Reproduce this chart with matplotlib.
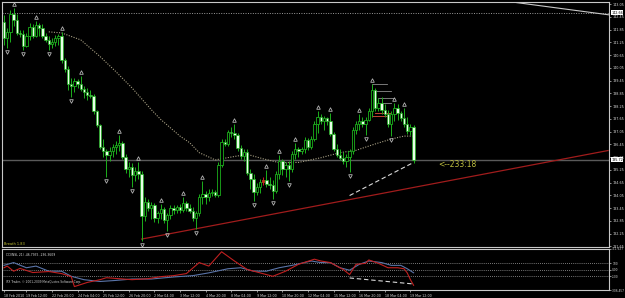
import matplotlib
matplotlib.use("Agg")
import matplotlib.pyplot as plt
import matplotlib.transforms as mtransforms
import numpy as np

# GBPJPY H4, 18 Feb 2010 08:00 .. 19 Mar 2010 16:00
opens = [142.22, 141.47, 141.75, 142.59, 142.31, 141.70, 141.66, 141.09, 141.56, 141.98,
         141.56, 142.08, 141.94, 141.56, 141.37, 141.19, 141.28, 141.47, 141.56, 140.44,
         140.01, 139.31, 139.22, 139.45, 139.31, 139.08, 138.94, 138.79, 138.75, 138.00,
         137.34, 136.31, 136.12, 135.93, 136.12, 136.31, 136.40, 136.50, 135.84, 135.28,
         135.37, 135.00, 135.18, 135.04, 133.07, 133.73, 133.45, 133.59, 132.98, 133.21,
         133.40, 132.88, 133.12, 133.45, 133.35, 133.49, 133.35, 133.68, 133.45, 133.31,
         132.98, 133.21, 133.96, 134.10, 133.96, 134.15, 134.20, 134.06, 135.46, 136.54,
         136.45, 137.01, 136.97, 136.87, 136.26, 135.89, 136.07, 135.09, 134.81, 134.20,
         134.43, 134.67, 134.76, 134.57, 134.53, 134.25, 135.04, 135.65, 135.28, 135.46,
         135.28, 135.98, 136.22, 136.12, 136.22, 136.64, 136.31, 136.68, 137.39, 137.72,
         137.53, 137.67, 137.53, 136.92, 136.22, 135.93, 135.79, 135.65, 135.84, 136.12,
         137.15, 137.39, 137.53, 137.39, 137.62, 138.04, 139.03, 138.18, 138.42, 138.09,
         137.90, 137.39, 137.86, 138.18, 137.95, 137.67, 137.43, 137.06, 137.25]
highs = [142.55, 141.94, 142.78, 142.88, 142.59, 141.84, 141.84, 141.70, 142.17, 142.12,
         142.27, 142.17, 142.12, 141.70, 141.56, 141.47, 141.61, 141.66, 141.75, 140.53,
         140.15, 139.59, 139.59, 139.54, 139.69, 139.22, 139.12, 139.03, 138.84, 138.09,
         137.43, 136.68, 136.22, 136.31, 136.45, 136.59, 136.87, 136.59, 135.98, 135.61,
         135.56, 135.37, 135.61, 135.18, 133.96, 133.87, 133.73, 133.68, 133.31, 133.63,
         133.49, 133.21, 133.59, 133.59, 133.59, 133.63, 133.96, 133.78, 133.63, 133.49,
         133.31, 134.10, 134.71, 134.25, 134.34, 134.34, 134.29, 135.61, 136.68, 136.68,
         137.15, 137.25, 137.39, 136.97, 136.40, 136.22, 136.22, 135.28, 135.04, 134.62,
         134.81, 134.90, 135.23, 134.90, 134.76, 135.18, 135.93, 135.75, 135.61, 135.65,
         136.12, 136.50, 136.31, 136.31, 136.78, 136.73, 136.83, 137.53, 138.00, 137.86,
         137.81, 137.76, 137.95, 137.01, 136.45, 136.22, 136.07, 135.98, 136.22, 137.29,
         137.53, 137.86, 137.72, 137.76, 138.18, 139.31, 139.12, 138.65, 138.70, 138.33,
         138.09, 138.00, 138.42, 138.33, 138.04, 138.14, 137.72, 137.39, 137.34]
lows = [141.14, 141.00, 141.28, 142.03, 141.61, 141.51, 140.90, 141.05, 141.37, 141.47,
        141.51, 141.56, 141.47, 141.28, 140.90, 141.00, 141.09, 141.14, 140.30, 139.87,
        139.03, 138.70, 138.94, 139.12, 138.98, 138.65, 138.56, 138.65, 137.90, 137.25,
        136.22, 135.84, 134.90, 135.65, 135.84, 135.98, 136.12, 135.75, 135.09, 134.90,
        134.43, 134.71, 134.81, 131.90, 132.84, 133.31, 132.93, 132.79, 132.74, 132.93,
        132.74, 132.37, 132.93, 133.17, 133.21, 133.21, 133.26, 133.31, 133.21, 132.84,
        132.46, 133.07, 133.63, 133.63, 133.77, 134.01, 133.96, 133.96, 135.37, 136.36,
        136.36, 136.78, 136.68, 136.12, 135.75, 135.65, 135.00, 134.34, 133.78, 134.06,
        134.15, 134.53, 134.43, 134.34, 133.87, 134.15, 134.81, 135.00, 134.90, 134.71,
        135.14, 135.75, 135.84, 135.98, 136.03, 136.17, 136.22, 136.59, 136.97, 137.39,
        137.15, 137.34, 136.83, 136.12, 135.84, 135.70, 135.51, 135.37, 135.14, 135.98,
        136.92, 137.15, 137.25, 136.87, 137.53, 137.72, 138.00, 138.00, 137.90, 137.76,
        137.25, 136.83, 137.53, 137.62, 137.53, 137.29, 136.92, 136.87, 135.56]
closes = [141.47, 141.75, 142.59, 142.31, 141.70, 141.66, 141.09, 141.56, 141.98, 141.56,
          142.08, 141.94, 141.56, 141.37, 141.19, 141.28, 141.47, 141.56, 140.44, 140.01,
          139.31, 139.22, 139.45, 139.31, 139.08, 138.94, 138.79, 138.75, 138.00, 137.34,
          136.31, 136.12, 135.93, 136.12, 136.31, 136.40, 136.50, 135.84, 135.28, 135.37,
          135.00, 135.18, 135.04, 133.07, 133.73, 133.45, 133.59, 132.98, 133.21, 133.40,
          132.88, 133.12, 133.45, 133.35, 133.49, 133.35, 133.68, 133.45, 133.31, 132.98,
          133.21, 133.96, 134.10, 133.96, 134.15, 134.20, 134.06, 135.46, 136.54, 136.45,
          137.01, 136.97, 136.87, 136.26, 135.89, 136.07, 135.09, 134.81, 134.20, 134.43,
          134.67, 134.76, 134.57, 134.53, 134.25, 135.04, 135.65, 135.28, 135.46, 135.28,
          135.98, 136.22, 136.12, 136.22, 136.64, 136.31, 136.68, 137.39, 137.72, 137.53,
          137.67, 137.53, 136.92, 136.22, 135.93, 135.79, 135.65, 135.84, 136.12, 137.15,
          137.39, 137.53, 137.39, 137.62, 138.04, 139.03, 138.18, 138.42, 138.09, 137.90,
          137.39, 137.86, 138.18, 137.95, 137.67, 137.43, 137.06, 137.25, 135.72]
red_bars = [81]

frac_up = [3, 10, 18, 24, 36, 42, 49, 56, 62, 72, 82, 86, 91, 98, 102, 111, 115, 122, 125]
frac_down = [1, 6, 14, 21, 32, 40, 43, 51, 60, 78, 84, 89, 108, 113, 121]

ma_bars = [14, 18, 24, 30, 35, 40, 46, 49, 55, 58, 61, 66, 72, 76, 81, 86, 92, 99, 105, 110,
           116, 121, 125, 128]
ma_vals = [141.75, 141.70, 141.37, 140.59, 139.87, 139.11, 138.09, 137.62, 136.84, 136.53,
           136.06, 135.72, 135.88, 135.98, 135.77, 135.59, 135.60, 135.82, 136.06, 136.17,
           136.47, 136.70, 136.84, 136.84]

cci_red_bars = [0, 1, 3, 5, 9, 14, 18, 21, 22, 26, 30, 32, 36, 40, 45, 49, 53, 57, 61, 64,
                68, 72, 76, 80, 84, 88, 92, 97, 99, 102, 104, 106, 108, 110, 113, 114, 117, 120,
                123, 125, 126, 127, 128]
cci_red = [29, 54, -23, 19, -43, -28, -59, -105, -255, -193, -151, -121, -136, -151, -136,
           -105, -90, -59, 107, 54, 270, 131, 3, -48, -100, -23, 80, 158, 131, 107, 54, 3, -74,
           80, 96, 147, 96, 29, 29, 14, -48, -151, -236]
cci_blue_bars = [0, 3, 7, 10, 14, 18, 21, 25, 30, 35, 40, 46, 53, 59, 64, 70, 74, 78, 82, 86,
                 90, 96, 99, 102, 105, 108, 111, 114, 118, 121, 124, 126, 128]
cci_blue = [65, 107, 29, 54, -23, -23, -100, -151, -178, -162, -141, -141, -110, -90, -48, 14,
            29, -23, -23, 29, 65, 131, 107, 107, 29, -8, 80, 131, 107, 65, 65, 14, -47]

price_ticks = [143.05, 142.45, 141.85, 141.25, 140.65, 140.05, 139.45, 138.85, 138.25, 137.65,
               137.05, 136.45, 135.85, 135.25, 134.65, 134.05, 133.45, 132.85, 132.25, 131.65]
time_bars = [0, 7, 15, 23, 31, 39, 47, 55, 63, 71, 79, 87, 95, 103, 111, 119, 127]
time_labels = ["18 Feb 2010", "19 Feb 12:00", "22 Feb 20:00", "24 Feb 04:00", "25 Feb 12:00",
               "26 Feb 20:00", "2 Mar 04:00", "3 Mar 12:00", "4 Mar 20:00", "8 Mar 04:00",
               "9 Mar 12:00", "10 Mar 20:00", "12 Mar 04:00", "15 Mar 12:00", "16 Mar 20:00",
               "18 Mar 04:00", "19 Mar 12:00"]

bid = 135.72
hline_level = 142.66
red_trend = ([43, 188.75], [131.99, 136.16])
grey_trend = ([156.6, 189.1], [143.20, 142.55])
low_dash = ([108, 128], [134.04, 135.60])
cci_dash = ([108, 128], [-125, -216])
stair_grey = [(115, 119.6, 139.30), (116, 120.8, 138.98), (117, 121.9, 138.64), (118, 121.0, 138.42)]
stair_red = [(116, 120.6, 137.94), (115, 120.0, 137.81)]

GREEN = "#1cb01c"
WHITE_BODY = "#e8ffe8"
FG = "#c8c8c8"
LBL = "#d8d8d8"

fig = plt.figure(figsize=(6.25, 2.98), dpi=100)
fig.patch.set_facecolor("black")
ax = fig.add_axes([2 / 625, 1 - 246.5 / 298, 607 / 625, 244.5 / 298])
ax2 = fig.add_axes([2 / 625, 1 - 290 / 298, 607 / 625, 41 / 298], sharex=ax)
for a in (ax, ax2):
    a.set_facecolor("black")
    for s in a.spines.values():
        s.set_color(FG)
        s.set_linewidth(0.8)

o = np.array(opens)
h = np.array(highs)
l = np.array(lows)
c = np.array(closes)
x = np.arange(len(o))
bull = c >= o

ax.axhline(hline_level, color="#9a9a9a", lw=0.7, ls=(0, (1, 1.5)))
ax.axhline(bid, color="#5a5a5a", lw=1.0)
ax.plot(ma_bars, ma_vals, color="#a8a084", lw=0.8, ls=(0, (1, 1.3)))
ax.plot(*red_trend, color="#a01c1c", lw=0.9)
ax.plot(*grey_trend, color="#c8c8c8", lw=0.8)
ax.plot(*low_dash, color="#d8d8d8", lw=0.8, ls=(0, (4, 2.5)))
for x0, x1, lv in stair_grey:
    ax.plot([x0, x1], [lv, lv], color="#8c8c8c", lw=0.6)
for x0, x1, lv in stair_red:
    ax.plot([x0, x1], [lv, lv], color="#e0503c", lw=0.6)

wick_col = [("#d02020" if i in red_bars else GREEN) for i in x]
ax.vlines(x, l, h, colors=wick_col, lw=0.7, zorder=3)
body_h = np.maximum(np.abs(c - o), 0.02)
body_b = np.minimum(o, c)
ax.bar(x[bull], body_h[bull], bottom=body_b[bull], width=0.72, color="black",
       edgecolor=GREEN, lw=0.6, zorder=4)
ax.bar(x[~bull], body_h[~bull], bottom=body_b[~bull], width=0.72, color=WHITE_BODY,
       edgecolor=GREEN, lw=0.5, zorder=4)
for i in red_bars:
    ax.bar(i, body_h[i], bottom=body_b[i], width=0.72, color="#d02020", edgecolor="#d02020",
           lw=0.5, zorder=5)

up_tr = mtransforms.offset_copy(ax.transData, fig=fig, x=0, y=4, units="dots")
dn_tr = mtransforms.offset_copy(ax.transData, fig=fig, x=0, y=-4, units="dots")
ax.plot(frac_up, h[frac_up], ls="none", marker="^", ms=2.6, mfc="none", mec="#b4b4b4",
        mew=0.6, transform=up_tr)
ax.plot(frac_down, l[frac_down], ls="none", marker="v", ms=2.6, mfc="none", mec="#b4b4b4",
        mew=0.6, transform=dn_tr)

ax.text(135.6, 135.51, "<--233:18", color="#c0c040", fontsize=5.5, ha="left", va="center")
ax.text(0.003, 0.004, "Breath 1.83", color="#c8c832", fontsize=2.5, transform=ax.transAxes,
        ha="left", va="bottom")

ax.set_xlim(-0.625, 189.06)
ax.set_ylim(131.64, 143.156)
ax.yaxis.tick_right()
ax.set_yticks(price_ticks)
ax.set_yticklabels([f"{v:.2f}" for v in price_ticks])
ax.tick_params(axis="y", colors=FG, labelcolor=LBL, labelsize=2.4, length=1.5, width=0.5,
               pad=0.8)
ax.tick_params(axis="x", bottom=False, labelbottom=False)

btrans = mtransforms.blended_transform_factory(ax.transAxes, ax.transData)
for lv, txt in [(hline_level, "142.66"), (bid, "135.72")]:
    ax.text(1.0035, lv, txt, transform=btrans, fontsize=2.4, color="black", ha="left",
            va="center", bbox=dict(boxstyle="square,pad=0.15", fc="white", ec="none"),
            clip_on=False, zorder=6)

# indicator window
for lv in (100, 0, -100):
    ax2.axhline(lv, color="#a0a0a0", lw=0.6, ls=(0, (1, 1.5)))
ax2.plot(cci_blue_bars, cci_blue, color="#5a74a8", lw=0.8)
ax2.plot(cci_red_bars, cci_red, color="#c02020", lw=0.8)
ax2.plot(*cci_dash, color="#d8d8d8", lw=0.8, ls=(0, (4, 2.5)))
ax2.set_ylim(-306.457, 311.627)
ax2.yaxis.tick_right()
ax2.set_yticks([311.627, 100, 0, -100, -306.457])
ax2.set_yticklabels(["311.627", "100", "0.00", "-100", "-306.457"])
ax2.tick_params(axis="y", colors=FG, labelcolor=LBL, labelsize=2.1, length=1.5, width=0.5,
                pad=0.8)
ax2.set_xticks(time_bars)
ax2.set_xticklabels(time_labels)
ax2.tick_params(axis="x", colors=FG, labelcolor=LBL, labelsize=2.3, length=1.5, width=0.5,
                pad=1.2)
for lab in ax2.get_xticklabels():
    lab.set_horizontalalignment("left")
ax2.text(0.006, 0.86, "CCI(NSL 21) -46.7935 -236.3609", color="#e0e0e0", fontsize=2.2,
         transform=ax2.transAxes, ha="left", va="center")
ax2.text(0.006, 0.2, "IFX Trader, \u00a9 2001-2009 MetaQuotes Software Corp.", color="#d0d0d0",
         fontsize=2.1, transform=ax2.transAxes, ha="left", va="center")

fig.savefig("out.png", dpi=100, facecolor="black")
